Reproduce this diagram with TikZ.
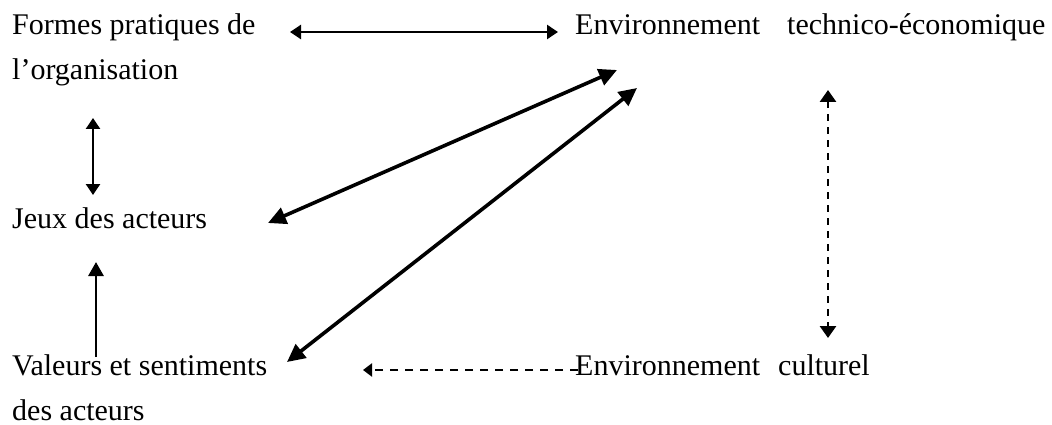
\documentclass[tikz,border=0pt]{standalone}
\usepackage{fontspec}
\setmainfont{Liberation Serif}
\usetikzlibrary{arrows.meta}
\tikzset{
  lbl/.style={anchor=base west, inner sep=0pt, align=left, font=\fontsize{30}{45}\selectfont},
  link/.style={line width=2.5pt, {Triangle[length=11pt,width=14pt]}-{Triangle[length=11pt,width=14pt]}},
  biglink/.style={line width=3.6pt, {Triangle[length=18pt,width=17pt]}-{Triangle[length=18pt,width=17pt]}},
  onelink/.style={line width=2.8pt, -{Triangle[length=14pt,width=15pt]}},
  dlink/.style={line width=2.8pt, dash pattern=on 7pt off 6pt, {Triangle[length=12pt,width=16pt]}-{Triangle[length=12pt,width=16pt]}},
  donelink/.style={line width=2.8pt, dash pattern=on 8pt off 7pt, -{Triangle[length=9pt,width=13pt]}}
}
\begin{document}
\begin{tikzpicture}[x=1pt,y=-1pt]
\useasboundingbox (0,0) rectangle (1052,425);
\node[lbl] (formes) at (12,80) {Formes pratiques de\\l'organisation};
\node[lbl] (envte) at (575,35) {Environnement\hspace{27pt}technico-économique};
\node[lbl] (jeux) at (12,228) {Jeux des acteurs};
\node[lbl] (valeurs) at (12,420) {Valeurs et sentiments\\des acteurs};
\node[lbl] (envc) at (575,375) {Environnement\hspace{18pt}culturel};
% named end points
\coordinate (fR) at (290,32);
\coordinate (eL) at (558,32);
\coordinate (fB) at (93,118);
\coordinate (jT) at (93,195);
\coordinate (jR) at (268,223);
\coordinate (eA) at (617,70);
\coordinate (vR) at (287,362);
\coordinate (eB) at (637,88);
\coordinate (vT) at (96,357);
\coordinate (jB) at (96,262);
\coordinate (eV) at (828,90);
\coordinate (cV) at (828,338);
\coordinate (cL) at (578,370);
\coordinate (vD) at (363,370);
\draw[link] (fR) -- (eL);
\draw[link] (fB) -- (jT);
\draw[biglink] (jR) -- (eA);
\draw[biglink] (vR) -- (eB);
\draw[onelink] (vT) -- (jB);
\draw[dlink] (eV) -- (cV);
\draw[donelink] (cL) -- (vD);
\end{tikzpicture}
\end{document}
